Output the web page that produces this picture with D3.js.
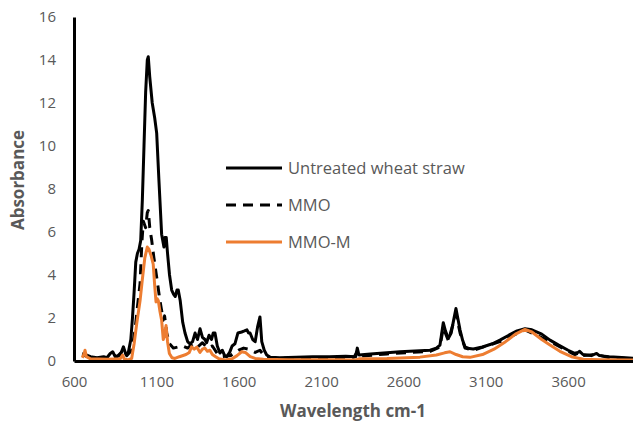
<!DOCTYPE html>
<html>
<head>
<meta charset="utf-8">
<script src="https://cdn.jsdelivr.net/npm/d3@7"></script>
<style>
  body { margin: 0; background: #fff; }
  text { font-family: "Open Sans", sans-serif; }
</style>
</head>
<body>
<svg id="chart" width="633" height="431"></svg>
<script>
// wavenumber (cm-1) / absorbance pairs
const untreatedX = [650, 670, 700, 740, 780, 800, 820, 835, 850, 880, 900, 915, 930, 945, 955, 965, 975, 985, 995, 1005,
  1015, 1025, 1035, 1045, 1051, 1060, 1075, 1090, 1102, 1115, 1132, 1146, 1152, 1160, 1168, 1180, 1193, 1205, 1215, 1225,
  1233, 1245, 1260, 1274, 1290, 1304, 1320, 1335, 1350, 1365, 1380, 1395, 1405, 1420, 1435, 1445, 1456, 1470, 1486, 1500,
  1515, 1527, 1545, 1560, 1577, 1595, 1618, 1635, 1650, 1660, 1669, 1685, 1700, 1715, 1729, 1740, 1755, 1770, 1790, 1850,
  1950, 2050, 2150, 2250, 2310, 2320, 2330, 2400, 2500, 2579, 2700, 2762, 2800, 2822, 2842, 2855, 2873, 2890, 2905, 2919,
  2930, 2944, 2960, 2974, 3000, 3024, 3080, 3140, 3186, 3240, 3290, 3338, 3380, 3440, 3490, 3540, 3600, 3640, 3660, 3670,
  3690, 3740, 3773, 3790, 3850, 3900, 3950, 4000];
const untreatedY = [0.35, 0.3, 0.2, 0.15, 0.2, 0.15, 0.35, 0.43, 0.2, 0.25, 0.66, 0.3, 0.4, 1.0, 2.0, 3.2, 4.6, 5.0, 5.2, 5.6,
  7.5, 10.0, 12.5, 14.0, 14.15, 13.2, 12.0, 11.3, 10.6, 8.5, 5.9, 5.3, 5.75, 5.75, 5.0, 4.0, 3.3, 3.1, 3.0, 3.3,
  3.3, 2.8, 1.8, 1.3, 0.9, 0.8, 0.9, 1.3, 1.0, 1.5, 1.1, 1.0, 0.85, 1.2, 1.0, 1.3, 1.3, 0.7, 0.37, 0.5,
  0.25, 0.2, 0.4, 0.7, 0.8, 1.3, 1.35, 1.4, 1.45, 1.3, 1.3, 1.0, 0.9, 1.6, 2.05, 0.9, 0.5, 0.28, 0.18, 0.15,
  0.18, 0.2, 0.2, 0.22, 0.2, 0.6, 0.28, 0.32, 0.38, 0.43, 0.48, 0.5, 0.6, 0.74, 1.78, 1.4, 1.05, 1.3, 1.9, 2.44,
  2.0, 1.44, 0.95, 0.66, 0.58, 0.56, 0.65, 0.8, 0.97, 1.2, 1.4, 1.5, 1.45, 1.25, 0.97, 0.75, 0.5, 0.36, 0.4, 0.45,
  0.3, 0.25, 0.35, 0.25, 0.2, 0.18, 0.15, 0.12];

const mmoX = [650, 700, 800, 840, 860, 900, 920, 950, 970, 985, 1001, 1012, 1021, 1035, 1045, 1051, 1060, 1072, 1085, 1102,
  1122, 1142, 1150, 1163, 1180, 1203, 1230, 1260, 1290, 1320, 1350, 1380, 1410, 1440, 1470, 1500, 1550, 1600, 1630, 1660,
  1700, 1729, 1760, 1800, 2000, 2300, 2320, 2330, 2500, 2762, 2822, 2842, 2873, 2919, 2944, 2974, 3024, 3186, 3338, 3490,
  3640, 3670, 3690, 3773, 3850, 4000];
const mmoY = [0.3, 0.15, 0.15, 0.3, 0.2, 0.5, 0.25, 0.5, 1.4, 2.5, 3.6, 5.5, 6.5, 6.2, 6.9, 7.0, 6.2, 5.6, 4.8, 3.9,
  2.8, 1.9, 2.1, 1.3, 0.8, 0.6, 0.65, 0.7, 0.6, 0.8, 0.65, 0.85, 0.6, 0.7, 0.35, 0.2, 0.25, 0.5, 0.6, 0.55,
  0.4, 0.5, 0.2, 0.12, 0.15, 0.18, 0.45, 0.22, 0.33, 0.45, 0.65, 1.55, 0.95, 2.2, 1.3, 0.6, 0.5, 0.9, 1.45, 0.9,
  0.3, 0.4, 0.25, 0.3, 0.15, 0.1];

const mmomX = [650, 660, 667, 675, 700, 800, 880, 895, 905, 930, 950, 965, 981, 1001, 1015, 1030, 1045, 1055, 1068, 1081,
  1090, 1098, 1105, 1112, 1122, 1132, 1142, 1150, 1159, 1168, 1179, 1195, 1213, 1240, 1280, 1300, 1314, 1330, 1345, 1365,
  1380, 1395, 1410, 1425, 1440, 1460, 1480, 1520, 1560, 1590, 1618, 1640, 1670, 1700, 1750, 1900, 2200, 2310, 2330, 2500,
  2700, 2800, 2850, 2883, 2920, 2960, 3004, 3080, 3150, 3220, 3280, 3338, 3380, 3440, 3490, 3550, 3620, 3692, 3800, 4000];
const mmomY = [0.15, 0.3, 0.5, 0.2, 0.1, 0.08, 0.1, 0.28, 0.1, 0.05, 0.12, 0.8, 1.75, 2.8, 3.8, 4.8, 5.3, 5.2, 4.9, 4.5,
  3.5, 2.75, 2.9, 2.8, 2.3, 1.9, 1.0, 1.2, 1.65, 0.9, 0.35, 0.15, 0.12, 0.2, 0.3, 0.4, 0.66, 0.55, 0.65, 0.4,
  0.55, 0.6, 0.45, 0.5, 0.3, 0.2, 0.1, 0.05, 0.1, 0.25, 0.43, 0.4, 0.2, 0.12, 0.08, 0.06, 0.06, 0.05, 0.1, 0.12,
  0.18, 0.28, 0.38, 0.43, 0.3, 0.2, 0.17, 0.3, 0.55, 0.9, 1.25, 1.47, 1.35, 1.0, 0.74, 0.45, 0.2, 0.08, 0.06, 0.05];

const seriesNames = ['Untreated wheat straw', 'MMO', 'MMO-M'];
const xTicks = [600, 1100, 1600, 2100, 2600, 3100, 3600];
const yTicks = [0, 2, 4, 6, 8, 10, 12, 14, 16];

const series = [
  { name: seriesNames[0], xs: untreatedX, ys: untreatedY, color: '#000', dash: null },
  { name: seriesNames[1], xs: mmoX, ys: mmoY, color: '#000', dash: '10,7' },
  { name: seriesNames[2], xs: mmomX, ys: mmomY, color: '#ED7D31', dash: null }
];

const svg = d3.select('#chart');
const x = d3.scaleLinear().domain([600, 4000]).range([74, 634]);
const y = d3.scaleLinear().domain([0, 16]).range([361, 17]);

const line = d3.line()
  .x(d => x(d[0]))
  .y(d => y(d[1]));

svg.append('g')
  .selectAll('path')
  .data(series)
  .enter()
  .append('path')
  .attr('d', s => line(s.xs.map((v, i) => [v, s.ys[i]])))
  .attr('fill', 'none')
  .attr('stroke', s => s.color)
  .attr('stroke-width', 3)
  .attr('stroke-linejoin', 'round')
  .attr('stroke-dasharray', s => s.dash);

// axes
const xAxis = svg.append('g')
  .attr('transform', `translate(0, ${y(0)})`)
  .call(d3.axisBottom(x).tickValues(xTicks).tickFormat(d3.format('d')).tickSize(0).tickPadding(15));
const yAxis = svg.append('g')
  .attr('transform', `translate(${x(600)}, 0)`)
  .call(d3.axisLeft(y).tickValues(yTicks).tickFormat(d3.format('d')).tickSize(0).tickPadding(18));

[xAxis, yAxis].forEach(a => {
  a.select('.domain').attr('stroke', '#000').attr('stroke-width', 3);
  a.selectAll('text')
    .attr('fill', '#595959')
    .style('font-size', '15px')
    .style('font-family', '"Open Sans", sans-serif');
});

svg.append('text')
  .attr('x', 353)
  .attr('y', 417)
  .attr('text-anchor', 'middle')
  .attr('fill', '#595959')
  .style('font-size', '17px')
  .style('font-weight', 'bold')
  .text('Wavelength cm-1');

svg.append('text')
  .attr('transform', 'translate(24, 180) rotate(-90)')
  .attr('text-anchor', 'middle')
  .attr('fill', '#595959')
  .style('font-size', '17px')
  .style('font-weight', 'bold')
  .text('Absorbance');

// legend
const legend = svg.append('g')
  .attr('transform', 'translate(226, 168)');
const rows = legend.selectAll('g')
  .data(series)
  .enter()
  .append('g')
  .attr('transform', (d, i) => `translate(0, ${i * 37})`);
rows.append('line')
  .attr('x1', 0).attr('x2', 56)
  .attr('stroke', d => d.color)
  .attr('stroke-width', 3)
  .attr('stroke-dasharray', d => d.dash);
rows.append('text')
  .attr('x', 62)
  .attr('dy', '0.35em')
  .attr('fill', '#595959')
  .style('font-size', '16.5px')
  .text(d => d.name);
</script>
</body>
</html>
